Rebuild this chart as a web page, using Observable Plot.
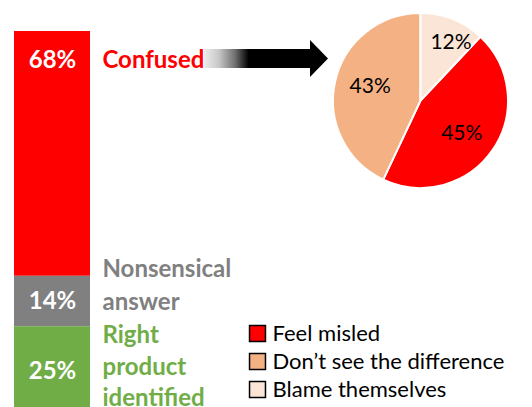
<!DOCTYPE html>
<html><head><meta charset="utf-8">
<script src="https://cdn.jsdelivr.net/npm/d3@7"></script>
<script src="https://cdn.jsdelivr.net/npm/@observablehq/plot@0.6"></script>
<style>
body{margin:0;background:#fff;}
#chart{position:relative;width:532px;height:407px;overflow:hidden;font-family:Lato,"Open Sans",sans-serif;}
#chart svg{position:absolute;left:0;top:0;}
</style></head><body><div id="chart"></div>
<script>
// ---- data ----
const barCategories = ["Confused", "Nonsensical answer", "Right product identified"];
const barValues = [68, 14, 25];
const barLabels = ["Confused", "Nonsensical\nanswer", "Right\nproduct\nidentified"];
const barColors = ["#FF0000", "#808080", "#70AD47"];

const pieCategories = ["Feel misled", "Don’t see the difference", "Blame themselves"];
const pieValues = [45, 43, 12];
const pieColors = ["#FF0000", "#F4B183", "#FBE5D6"];

const barData = barCategories.map((c, i) => ({category: c, value: barValues[i], label: barLabels[i], pct: barValues[i] + "%"}));
const pieData = pieCategories.map((c, i) => ({category: c, value: pieValues[i]}));

// ---- layout ----
const W = 532, H = 407;
const barTop = 31, pxPerPct = 3.6, barLeft = 14, barRight = 90;
const pie = {cx: 420.5, cy: 100.5, r: 87.5};
const legendTop = 332, legendBottom = 389;
const FONT = "Lato, 'Open Sans', sans-serif";

const total = d3.sum(barValues);
const xs = () => "stack";
const only = (k) => (d) => d.category === barCategories[k];

const plotA = Plot.plot({
  width: W, height: H, margin: 0,
  style: {background: "transparent", fontFamily: FONT},
  x: {type: "band", domain: ["stack"], range: [barLeft, barRight], padding: 0, axis: null},
  y: {domain: [0, total], range: [barTop, barTop + total * pxPerPct], axis: null},
  color: {domain: barCategories, range: barColors},
  marks: [
    Plot.barY(barData, {x: xs, y: "value", fill: "category"}),
    // value labels
    Plot.text(barData, Plot.stackY1({x: xs, y: "value", text: d => only(0)(d) ? d.pct : null, dy: 29, fill: "white", fontWeight: "bold", fontSize: 24})),
    Plot.text(barData, Plot.stackY({x: xs, y: "value", text: d => only(0)(d) ? null : d.pct, fill: "white", fontWeight: "bold", fontSize: 24})),
    // category labels
    Plot.text(barData, Plot.stackY1({x: xs, y: "value", text: d => only(0)(d) ? d.label : null, fill: "category", dx: 50, dy: 29, textAnchor: "start", fontWeight: "bold", fontSize: 24})),
    Plot.text(barData, Plot.stackY({x: xs, y: "value", text: d => only(1)(d) ? d.label : null, fill: "category", dx: 50, dy: -19, textAnchor: "start", fontWeight: "bold", fontSize: 24, lineHeight: 1.38})),
    Plot.text(barData, Plot.stackY({x: xs, y: "value", text: d => only(2)(d) ? d.label : null, fill: "category", dx: 50, dy: -7, textAnchor: "start", fontWeight: "bold", fontSize: 24, lineHeight: 1.3}))
  ]
});

function arrowMark() {
  const x0 = 204, x1 = 328, headX = 310, cy = 58.5, shaftH = 19, headH = 37;
  const g = d3.create("svg:g");
  const grad = g.append("defs").append("linearGradient")
    .attr("id", "arrowGrad").attr("gradientUnits", "userSpaceOnUse")
    .attr("x1", x0).attr("x2", x1).attr("y1", 0).attr("y2", 0);
  [[0, "#ececec"], [0.12, "#c8c8c8"], [0.25, "#707070"], [0.36, "#000"], [1, "#000"]]
    .forEach(([o, c]) => grad.append("stop").attr("offset", o).attr("stop-color", c));
  g.append("path")
    .attr("d", `M${x0},${cy - shaftH / 2}H${headX}V${cy - headH / 2}L${x1},${cy}L${headX},${cy + headH / 2}V${cy + shaftH / 2}H${x0}Z`)
    .attr("fill", "url(#arrowGrad)");
  return g.node();
}

function pieMark(index, scales) {
  const color = (scales && scales.color) || (c => pieColors[pieCategories.indexOf(c)]);
  const sum = d3.sum(pieValues);
  const start = 2 * Math.PI * pieValues[pieValues.length - 1] / sum;
  const arcs = d3.pie().sort(null).value(d => d.value).startAngle(start).endAngle(start + 2 * Math.PI)(pieData);
  const arc = d3.arc().innerRadius(0).outerRadius(pie.r);
  const g = d3.create("svg:g").attr("transform", `translate(${pie.cx},${pie.cy})`);
  g.selectAll("path").data(arcs).join("path")
    .attr("d", arc).attr("fill", d => color(d.data.category))
    .attr("stroke", "white").attr("stroke-width", 2).attr("stroke-linejoin", "round");
  g.selectAll("text").data(arcs).join("text")
    .attr("transform", d => {
      const small = (d.endAngle - d.startAngle) < 1;
      const k = small ? 0.76 : 0.6;
      const a = (d.startAngle + d.endAngle) / 2 + (small ? 0.1 : 0.07);
      return `translate(${Math.sin(a) * pie.r * k},${-Math.cos(a) * pie.r * k})`;
    })
    .attr("text-anchor", "middle").attr("dy", "0.35em")
    .attr("font-size", 21).attr("font-family", FONT).attr("fill", "black")
    .text(d => d.data.value + "%");
  return g.node();
}

const plotB = Plot.plot({
  width: W, height: H, margin: 0,
  style: {background: "transparent", fontFamily: FONT},
  y: {type: "point", domain: pieCategories, range: [legendTop, legendBottom], padding: 0, axis: null},
  color: {domain: pieCategories, range: pieColors},
  marks: [
    arrowMark,
    pieMark,
    Plot.dot(pieData, {y: "category", frameAnchor: "left", dx: 257, symbol: "square", r: 9, fill: "category", stroke: "black", strokeWidth: 1.5}),
    Plot.text(pieData, {y: "category", text: "category", frameAnchor: "left", dx: 272, textAnchor: "start", fontSize: 22, fill: "black"})
  ]
});

const el = document.getElementById("chart");
el.appendChild(plotA);
el.appendChild(plotB);
</script></body></html>
